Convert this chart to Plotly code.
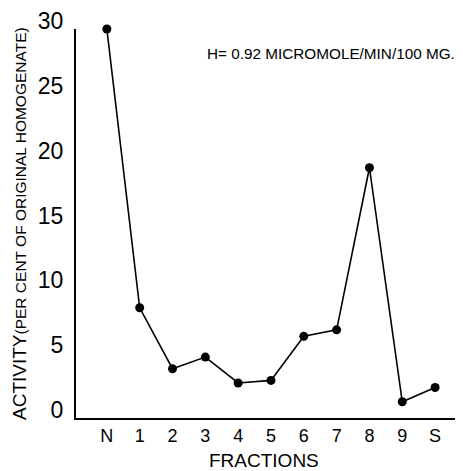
import plotly.graph_objects as go

fractions = ["N", "1", "2", "3", "4", "5", "6", "7", "8", "9", "S"]
activity = [30.0, 8.5, 3.8, 4.7, 2.7, 2.9, 6.3, 6.8, 19.3, 1.25, 2.35]
y_ticks = [0, 5, 10, 15, 20, 25, 30]

FONT = "Liberation Sans"

fig = go.Figure()
fig.add_trace(go.Scatter(
    x=list(range(len(fractions))), y=activity,
    mode="lines+markers",
    line=dict(color="black", width=1.6),
    marker=dict(color="black", size=9),
    cliponaxis=False,
    showlegend=False,
))

# page body has an 8px margin; figure is sized to fill the rest of the window
fig.update_layout(
    width=455, height=463,
    margin=dict(l=68, r=0, t=21, b=53),
    paper_bgcolor="white", plot_bgcolor="white",
    font=dict(family=FONT, color="black"),
    xaxis=dict(
        range=[-0.94, 10.85], automargin=False,
        tickmode="array", tickvals=list(range(len(fractions))), ticktext=fractions,
        showgrid=False, zeroline=False, showline=True, linecolor="black", linewidth=2,
        ticks="", tickfont=dict(size=18, family=FONT),
    ),
    yaxis=dict(
        range=[0, 30], automargin=False,
        tickmode="array", tickvals=y_ticks, ticktext=[str(v) for v in y_ticks],
        showgrid=False, zeroline=False, showline=True, linecolor="black", linewidth=2,
        ticks="", tickfont=dict(size=23, family=FONT),
        ticklabelshift=-8, ticklabelstandoff=6,
    ),
    annotations=[
        dict(text="FRACTIONS", xref="paper", yref="paper", x=0.486, y=-0.108,
             xanchor="center", yanchor="middle", showarrow=False,
             font=dict(size=19, family=FONT)),
        dict(text="ACTIVITY<span style='font-size:15.5px'>(PER CENT OF ORIGINAL HOMOGENATE)</span>",
             xref="paper", yref="paper", x=(20 - 76) / 387, y=(418 - 224) / 389,
             xanchor="center", yanchor="middle", textangle=-90, showarrow=False,
             font=dict(size=19, family=FONT)),
        dict(text="H= 0.92 MICROMOLE/MIN/100 MG.", xref="paper", yref="paper",
             x=(205 - 76) / 387, y=(418 - 54) / 389,
             xanchor="left", yanchor="middle", showarrow=False,
             font=dict(size=15.3, family=FONT)),
    ],
)

fig.write_html("out.html")
